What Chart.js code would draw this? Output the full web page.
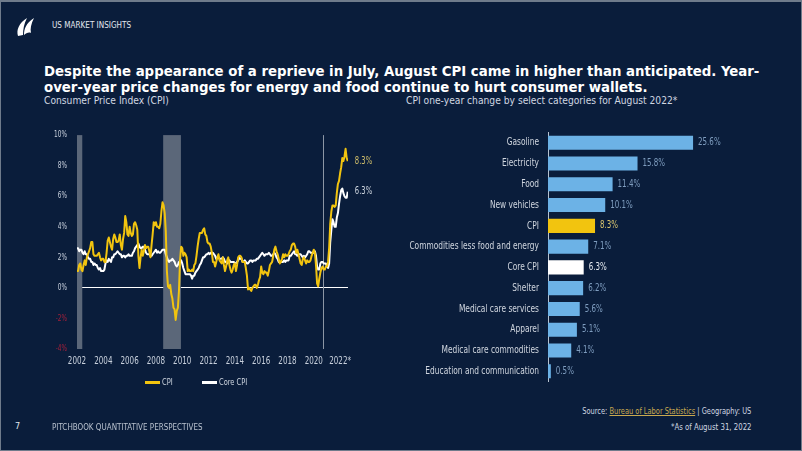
<!DOCTYPE html>
<html>
<head>
<meta charset="utf-8">
<script src="https://cdn.jsdelivr.net/npm/chart.js@4.4.0/dist/chart.umd.min.js"></script>
<style>
  body { margin: 0; width: 802px; height: 451px; background: #0a1d3b; overflow: hidden; position: relative;
    font-family: "DejaVu Sans Condensed", "DejaVu Sans", sans-serif; color: #fff; }
  .frame { position: absolute; left: 0; top: 0; width: 802px; height: 451px; box-sizing: border-box;
    border: 1px solid #6f7b8b; border-top-width: 2px; pointer-events: none; }
  .txt { position: absolute; white-space: nowrap; }
  .sq { display: inline-block; transform-origin: left center; }
  .sqr { display: inline-block; transform-origin: right center; }
  #header { left: 52px; top: 20px; font-size: 8.5px; color: #e3e8ef; }
  #title { left: 44px; top: 63px; font-size: 14.8px; line-height: 16px; font-weight: bold; color: #fff; }
  #subLeft { left: 44px; top: 95px; font-size: 10.2px; color: #d0d7e1; }
  #subRight { left: 406px; top: 95px; font-size: 10.2px; color: #d0d7e1; }
  #lineChart { position: absolute; left: 0; top: 120px; }
  #barChart { position: absolute; left: 400px; top: 117px; }
  .legend { position: absolute; top: 376px; font-size: 9.5px; color: #d0d7e1; }
  .swatch { display: inline-block; width: 15px; height: 3px; vertical-align: middle; margin-right: 2px; }
  #source { right: 51px; top: 406px; font-size: 8.5px; color: #d0d7e1; }
  #source u { color: #c9a94f; }
  #asof { right: 51px; top: 422px; font-size: 8.5px; color: #d0d7e1; }
  #pageNo { left: 15px; top: 421px; font-size: 9px; color: #e3e8ef; }
  #footer { left: 52px; top: 421px; font-size: 9.5px; color: #b9c2cf; }
</style>
</head>
<body>
<svg style="position:absolute;left:14px;top:15px" width="24" height="24" viewBox="0 0 24 24">
  <path d="M4 21 C2 15 5 8 13 3 C10 9 9 14 9 20 Z" fill="#ffffff"/>
  <path d="M10 20 C10 14 12 8 20 3 C17 9 16 14 17 18 C15 17 12 18 10 20 Z" fill="#ffffff"/>
</svg>
<div class="txt" id="header"><span class="sq" style="transform:scaleX(0.95)">US MARKET INSIGHTS</span></div>
<div class="txt" id="title">Despite the appearance of a reprieve in July, August CPI came in higher than anticipated. Year-<br>over-year price changes for energy and food continue to hurt consumer wallets.</div>
<div class="txt" id="subLeft">Consumer Price Index (CPI)</div>
<div class="txt" id="subRight">CPI one-year change by select categories for August 2022*</div>

<canvas id="lineChart" width="380" height="260"></canvas>
<canvas id="barChart" width="400" height="280"></canvas>

<div class="legend" style="left:145px"><span class="swatch" style="background:#f2c40f"></span><span class="sq" style="transform:scaleX(0.78)">CPI</span></div>
<div class="legend" style="left:202px"><span class="swatch" style="background:#ffffff"></span><span class="sq" style="transform:scaleX(0.78)">Core CPI</span></div>

<div class="txt" id="source"><span class="sqr" style="transform:scaleX(0.87)">Source: <u>Bureau of Labor Statistics</u> | Geography: US</span></div>
<div class="txt" id="asof"><span class="sqr" style="transform:scaleX(0.91)">*As of August 31, 2022</span></div>
<div class="txt" id="pageNo">7</div>
<div class="txt" id="footer"><span class="sq" style="transform:scaleX(0.84)">PITCHBOOK QUANTITATIVE PERSPECTIVES</span></div>
<div class="frame"></div>

<script>
// monthly year-over-year change, Jan 2002 to Aug 2022
const startYear = 2002;
const cpi = [
  1.1, 1.1, 1.5, 1.6, 1.2, 1.1, 1.5, 1.8, 1.5, 2.0, 2.2, 2.4,
  2.6, 3.0, 3.0, 2.2, 2.1, 2.1, 2.1, 2.2, 2.3, 2.0, 1.8, 1.9,
  1.9, 1.7, 1.7, 2.3, 3.1, 3.3, 3.0, 2.7, 2.5, 3.2, 3.5, 3.3,
  3.0, 3.0, 3.1, 3.5, 2.8, 2.5, 3.2, 3.6, 4.7, 4.3, 3.5, 3.4,
  4.0, 3.6, 3.4, 3.5, 4.2, 4.3, 4.1, 3.8, 2.1, 1.3, 2.0, 2.5,
  2.1, 2.4, 2.8, 2.6, 2.7, 2.7, 2.4, 2.0, 2.8, 3.5, 4.3, 4.1,
  4.3, 4.0, 4.0, 3.9, 4.2, 5.0, 5.6, 5.4, 4.9, 3.7, 1.1, 0.1,
  0.0, 0.2, -0.4, -0.7, -1.3, -1.4, -2.1, -1.5, -1.3, -0.2, 1.8, 2.7,
  2.6, 2.1, 2.3, 2.2, 2.0, 1.1, 1.2, 1.1, 1.1, 1.2, 1.1, 1.5,
  1.6, 2.1, 2.7, 3.2, 3.6, 3.6, 3.6, 3.8, 3.9, 3.5, 3.4, 3.0,
  2.9, 2.9, 2.7, 2.3, 1.7, 1.7, 1.4, 1.7, 2.0, 2.2, 1.8, 1.7,
  1.6, 2.0, 1.5, 1.1, 1.4, 1.8, 2.0, 1.5, 1.2, 1.0, 1.2, 1.5,
  1.6, 1.1, 1.5, 2.0, 2.1, 2.1, 2.0, 1.7, 1.7, 1.7, 1.3, 0.8,
  -0.1, 0.0, -0.1, -0.2, 0.0, 0.1, 0.2, 0.2, 0.0, 0.2, 0.5, 0.7,
  1.4, 1.0, 0.9, 1.1, 1.0, 1.0, 0.8, 1.1, 1.5, 1.6, 1.7, 2.1,
  2.5, 2.7, 2.4, 2.2, 1.9, 1.6, 1.7, 1.9, 2.2, 2.0, 2.2, 2.1,
  2.1, 2.2, 2.4, 2.5, 2.8, 2.9, 2.9, 2.7, 2.3, 2.5, 2.2, 1.9,
  1.6, 1.5, 1.9, 2.0, 1.8, 1.6, 1.8, 1.7, 1.7, 1.8, 2.1, 2.3,
  2.5, 2.3, 1.5, 0.3, 0.1, 0.6, 1.0, 1.3, 1.4, 1.2, 1.2, 1.4,
  1.4, 1.7, 2.6, 4.2, 5.0, 5.4, 5.4, 5.3, 5.4, 6.2, 6.8, 7.0,
  7.5, 7.9, 8.5, 8.3, 8.6, 9.1, 8.5, 8.3
];
const coreCpi = [
  2.6, 2.6, 2.4, 2.5, 2.5, 2.3, 2.2, 2.4, 2.2, 2.2, 2.0, 1.9,
  1.9, 1.7, 1.7, 1.5, 1.6, 1.5, 1.5, 1.3, 1.2, 1.3, 1.1, 1.1,
  1.1, 1.2, 1.6, 1.8, 1.7, 1.9, 1.8, 1.7, 2.0, 2.0, 2.2, 2.2,
  2.3, 2.4, 2.3, 2.2, 2.2, 2.0, 2.1, 2.1, 2.0, 2.1, 2.1, 2.2,
  2.1, 2.1, 2.1, 2.3, 2.4, 2.6, 2.7, 2.8, 2.9, 2.7, 2.6, 2.6,
  2.7, 2.7, 2.5, 2.3, 2.2, 2.2, 2.2, 2.1, 2.1, 2.2, 2.3, 2.4,
  2.5, 2.3, 2.4, 2.3, 2.3, 2.4, 2.5, 2.5, 2.5, 2.2, 2.0, 1.8,
  1.7, 1.8, 1.8, 1.9, 1.8, 1.7, 1.5, 1.4, 1.5, 1.7, 1.7, 1.8,
  1.6, 1.3, 1.1, 0.9, 0.9, 0.9, 0.9, 0.9, 0.8, 0.6, 0.8, 0.8,
  1.0, 1.1, 1.2, 1.3, 1.5, 1.6, 1.8, 2.0, 2.0, 2.1, 2.2, 2.2,
  2.3, 2.2, 2.3, 2.3, 2.3, 2.2, 2.1, 1.9, 2.0, 2.0, 1.9, 1.9,
  1.9, 2.0, 1.9, 1.7, 1.7, 1.6, 1.7, 1.8, 1.7, 1.7, 1.7, 1.7,
  1.6, 1.6, 1.7, 1.8, 2.0, 1.9, 1.9, 1.7, 1.7, 1.8, 1.7, 1.6,
  1.6, 1.7, 1.8, 1.8, 1.7, 1.8, 1.8, 1.8, 1.9, 1.9, 2.0, 2.1,
  2.2, 2.3, 2.2, 2.1, 2.2, 2.2, 2.2, 2.3, 2.2, 2.1, 2.1, 2.2,
  2.3, 2.2, 2.0, 1.9, 1.7, 1.7, 1.7, 1.7, 1.7, 1.8, 1.7, 1.8,
  1.8, 1.8, 2.1, 2.1, 2.2, 2.3, 2.4, 2.2, 2.2, 2.1, 2.2, 2.2,
  2.2, 2.1, 2.0, 2.1, 2.0, 2.1, 2.2, 2.4, 2.4, 2.3, 2.3, 2.3,
  2.3, 2.4, 2.1, 1.4, 1.2, 1.2, 1.6, 1.7, 1.7, 1.6, 1.6, 1.6,
  1.4, 1.3, 1.6, 3.0, 3.8, 4.5, 4.3, 4.0, 4.0, 4.6, 4.9, 5.5,
  6.0, 6.4, 6.5, 6.2, 6.0, 5.9, 5.9, 6.3
];
const xTicks = [2002, 2004, 2006, 2008, 2010, 2012, 2014, 2016, 2018, 2020, 2022];
const yTicks = [-4, -2, 0, 2, 4, 6, 8, 10];
// shaded recession periods as drawn in the picture, plus the 2020 marker line
const recessionStart = [2002.0, 2008.55];
const recessionEnd = [2002.4, 2009.9];
const covidLine = 2020.72;

const barCategories = ["Gasoline", "Electricity", "Food", "New vehicles", "CPI",
  "Commodities less food and energy", "Core CPI", "Shelter", "Medical care services",
  "Apparel", "Medical care commodities", "Education and communication"];
const barValues = [25.6, 15.8, 11.4, 10.1, 8.3, 7.1, 6.3, 6.2, 5.6, 5.1, 4.1, 0.5];

const YELLOW = "#f2c40f";
const BLUE = "#6cb2e6";
const FONT = "'DejaVu Sans Condensed', 'DejaVu Sans', sans-serif";

// the original uses a very narrow typeface, so squeeze all canvas text a bit
function condenseText(canvas, factor) {
  const c = canvas.getContext("2d");
  const fill = c.fillText;
  c.fillText = function (text, x, y) {
    const w = this.measureText(text).width;
    return fill.call(this, text, x, y, Math.max(w * factor, 1));
  };
}

function toPoints(arr) {
  return arr.map((v, i) => ({ x: startYear + i / 12, y: v }));
}

const recessionPlugin = {
  id: "recessions",
  beforeDatasetsDraw(chart) {
    const { ctx, chartArea, scales } = chart;
    ctx.save();
    ctx.fillStyle = "#5b6779";
    recessionStart.forEach((s, i) => {
      const x1 = scales.x.getPixelForValue(s);
      const x2 = scales.x.getPixelForValue(recessionEnd[i]);
      ctx.fillRect(x1, chartArea.top, x2 - x1, chartArea.bottom - chartArea.top);
    });
    const cx = Math.round(scales.x.getPixelForValue(covidLine)) + 0.5;
    ctx.strokeStyle = "#8c96a5";
    ctx.lineWidth = 1;
    ctx.beginPath();
    ctx.moveTo(cx, chartArea.top);
    ctx.lineTo(cx, chartArea.bottom);
    ctx.stroke();
    ctx.restore();
  }
};

const endLabelPlugin = {
  id: "endLabels",
  afterDatasetsDraw(chart) {
    const { ctx } = chart;
    const colors = ["#d2bf6a", "#cfd6df"];
    ctx.save();
    ctx.font = "10px " + FONT;
    ctx.textBaseline = "middle";
    chart.data.datasets.forEach((ds, i) => {
      const pts = chart.getDatasetMeta(i).data;
      const last = pts[pts.length - 1];
      ctx.fillStyle = colors[i];
      ctx.fillText(ds.data[ds.data.length - 1].y.toFixed(1) + "%", last.x + 7, last.y);
    });
    ctx.restore();
  }
};

const valueLabelPlugin = {
  id: "valueLabels",
  afterDatasetsDraw(chart) {
    const { ctx } = chart;
    ctx.save();
    ctx.font = "10px " + FONT;
    ctx.textBaseline = "middle";
    chart.getDatasetMeta(0).data.forEach((bar, i) => {
      const name = barCategories[i];
      ctx.fillStyle = name === "CPI" ? "#d8c46e" : name === "Core CPI" ? "#e6ebf1" : "#7f9dbf";
      ctx.fillText(barValues[i].toFixed(1) + "%", bar.x + 5, bar.y);
    });
    ctx.restore();
  }
};

Chart.defaults.font.family = FONT;

const lineCanvas = document.getElementById("lineChart");
const barCanvas = document.getElementById("barChart");
condenseText(lineCanvas, 0.76);
condenseText(barCanvas, 0.79);

new Chart(lineCanvas, {
  type: "line",
  data: {
    datasets: [
      { label: "CPI", data: toPoints(cpi), borderColor: YELLOW, borderWidth: 2, pointRadius: 0, borderJoinStyle: "round" },
      { label: "Core CPI", data: toPoints(coreCpi), borderColor: "#ffffff", borderWidth: 2, pointRadius: 0, borderJoinStyle: "round" }
    ]
  },
  options: {
    responsive: false,
    animation: false,
    layout: { padding: { left: 0, right: 32, top: 12, bottom: 0 } },
    plugins: { legend: { display: false }, tooltip: { enabled: false } },
    scales: {
      x: {
        type: "linear", min: 2002, max: 2022.6,
        afterBuildTicks: (s) => { s.ticks = xTicks.map((v) => ({ value: v })); },
        afterFit: (s) => { s.height = 31; },
        grid: { display: false, drawTicks: false },
        border: { display: false },
        ticks: { color: "#c8d0dc", font: { size: 10.5 }, padding: 6, maxRotation: 0, autoSkip: false,
          callback: (v) => (v === 2022 ? "2022*" : String(v)) }
      },
      y: {
        min: -4, max: 10,
        afterBuildTicks: (s) => { s.ticks = yTicks.map((v) => ({ value: v })); },
        afterFit: (s) => { s.width = 77; },
        grid: { color: (c) => (c.tick && c.tick.value === 0 ? "#ffffff" : "rgba(0,0,0,0)"), drawTicks: false, lineWidth: 1 },
        border: { display: false },
        ticks: { color: (c) => (c.tick.value < 0 ? "#a3203a" : "#c8d0dc"), font: { size: 8.5 }, padding: 10,
          callback: (v) => v + "%" }
      }
    }
  },
  plugins: [recessionPlugin, endLabelPlugin]
});

new Chart(barCanvas, {
  type: "bar",
  data: {
    labels: barCategories,
    datasets: [{
      data: barValues,
      backgroundColor: barCategories.map((n) => (n === "CPI" ? YELLOW : n === "Core CPI" ? "#ffffff" : BLUE)),
      barPercentage: 0.68,
      categoryPercentage: 1
    }]
  },
  options: {
    indexAxis: "y",
    responsive: false,
    animation: false,
    layout: { padding: { left: 0, right: 82, top: 11, bottom: 10 } },
    plugins: { legend: { display: false }, tooltip: { enabled: false } },
    scales: {
      x: { display: false, min: 0, max: 30 },
      y: {
        afterFit: (s) => { s.width = 148; },
        grid: { display: false, drawTicks: false },
        border: { display: true, color: "#b8c2cf", width: 1 },
        ticks: { color: "#d0d6df", font: { size: 10.5 }, padding: 9 }
      }
    }
  },
  plugins: [valueLabelPlugin]
});
</script>
</body>
</html>
